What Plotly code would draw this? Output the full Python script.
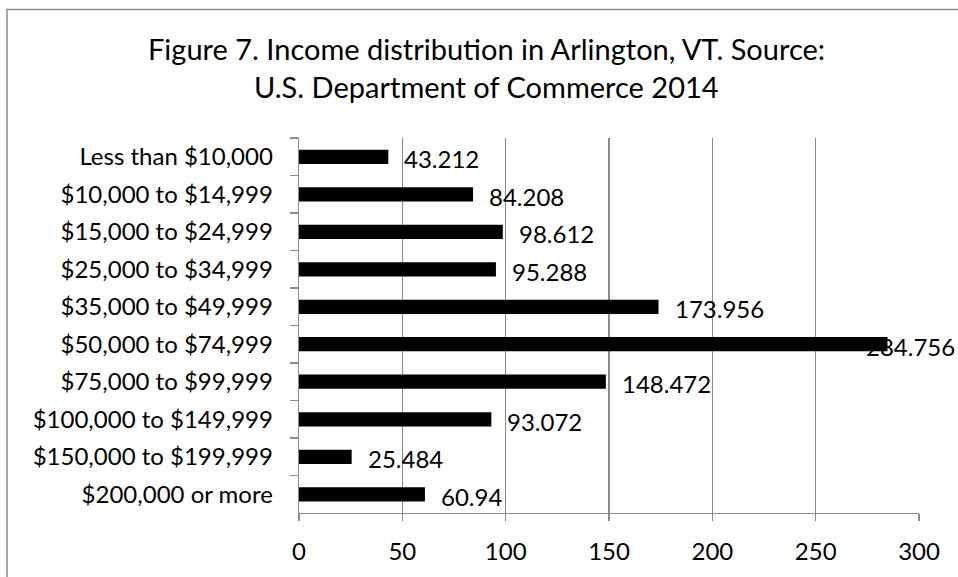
import plotly.graph_objects as go

categories = [
    "Less than $10,000",
    "$10,000 to $14,999",
    "$15,000 to $24,999",
    "$25,000 to $34,999",
    "$35,000 to $49,999",
    "$50,000 to $74,999",
    "$75,000 to $99,999",
    "$100,000 to $149,999",
    "$150,000 to $199,999",
    "$200,000 or more",
]
values = [43.212, 84.208, 98.612, 95.288, 173.956, 284.756, 148.472, 93.072, 25.484, 60.94]
value_labels = ["43.212", "84.208", "98.612", "95.288", "173.956", "284.756", "148.472", "93.072", "25.484", "60.94"]
x_ticks = [0, 50, 100, 150, 200, 250, 300]

title_line1 = "Figure 7. Income distribution in Arlington, VT. Source:"
title_line2 = "U.S. Department of Commerce 2014"

FONT = "Lato"
GREY = "#8a8a8a"
FS = 24
TFS = 29

W, H = 958, 577
L, R, T, B = 299, 39, 138, 58
pw = W - L - R
ph = H - T - B

fig = go.Figure()
fig.add_trace(go.Bar(
    x=values, y=categories, orientation="h",
    marker=dict(color="#000000", line=dict(width=0)),
    hoverinfo="skip",
))

annotations = []
for cat, v, lab in zip(categories, values, value_labels):
    if v > 270:
        annotations.append(dict(
            x=(W - 1 - L) / pw, xref="paper", y=cat, yref="y",
            text=lab, showarrow=False, xanchor="right", yanchor="middle",
            yshift=-2, font=dict(family=FONT, size=FS, color="#000"),
        ))
    else:
        annotations.append(dict(
            x=v, xref="x", y=cat, yref="y",
            text=lab, showarrow=False, xanchor="left", yanchor="middle",
            xshift=14, yshift=-2, font=dict(family=FONT, size=FS, color="#000"),
        ))

annotations.append(dict(
    x=(486 - L) / pw, xref="paper", y=(H - B - 47.5) / ph, yref="paper",
    text=title_line1, showarrow=False, xanchor="center", yanchor="middle",
    font=dict(family=FONT, size=TFS, color="#000"),
))
annotations.append(dict(
    x=(486 - L) / pw, xref="paper", y=(H - B - 85.5) / ph, yref="paper",
    text=title_line2, showarrow=False, xanchor="center", yanchor="middle",
    font=dict(family=FONT, size=TFS, color="#000"),
))

fig.update_layout(
    width=W, height=H,
    margin=dict(l=L, r=R, t=T, b=B, pad=0),
    paper_bgcolor="white", plot_bgcolor="white",
    showlegend=False,
    bargap=0.62,
    font=dict(family=FONT, size=FS, color="#000"),
    annotations=annotations,
    shapes=[dict(
        type="rect", xref="paper", yref="paper",
        x0=(7 - L) / pw, x1=(975 - L) / pw,
        y0=(H - B - 595) / ph, y1=(H - B - 7.5) / ph,
        line=dict(color=GREY, width=1.5), fillcolor="rgba(0,0,0,0)", layer="below",
    )],
    xaxis=dict(
        range=[0, 300], tickvals=x_ticks, ticktext=[str(t) for t in x_ticks],
        showgrid=True, gridcolor=GREY, gridwidth=1.3,
        zeroline=False, showline=True, linecolor=GREY, linewidth=1.3,
        ticks="outside", ticklen=7, tickcolor=GREY, tickwidth=1.3,
        ticklabelstandoff=10,
        tickfont=dict(family=FONT, size=FS, color="#000"),
        fixedrange=True,
    ),
    yaxis=dict(
        autorange="reversed", type="category",
        showgrid=False, zeroline=False, showline=True, linecolor=GREY, linewidth=1.3,
        ticks="outside", ticklen=8, tickcolor=GREY, tickwidth=1.3,
        tickson="boundaries", ticklabelstandoff=20,
        tickfont=dict(family=FONT, size=FS, color="#000"),
        fixedrange=True,
    ),
)

fig.write_html(
    "out.html",
    config={"displayModeBar": False, "staticPlot": True},
    post_script="document.body.style.margin='0';document.body.style.overflow='hidden';",
)
